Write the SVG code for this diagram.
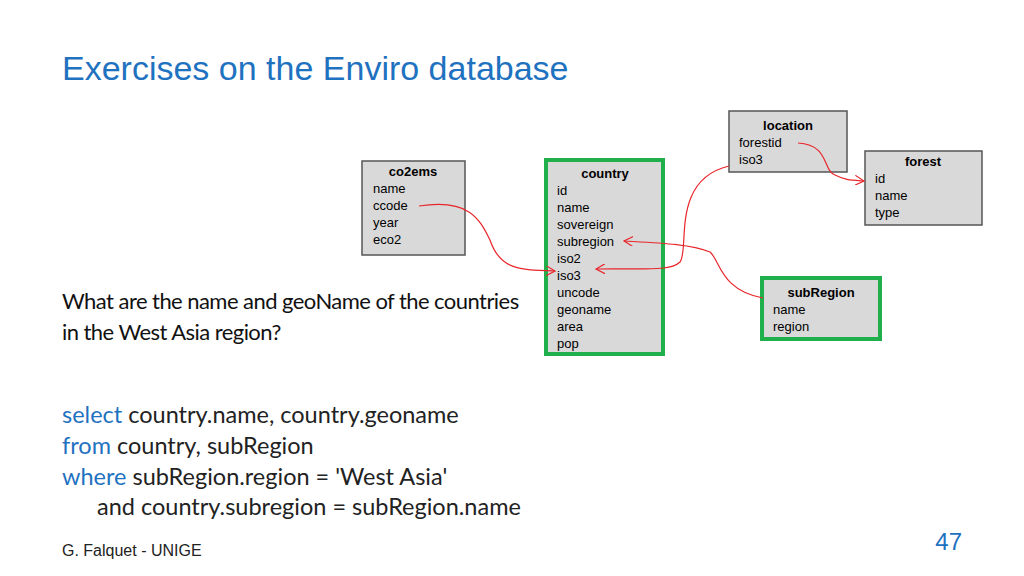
<svg xmlns="http://www.w3.org/2000/svg" width="1024" height="576" viewBox="0 0 1024 576">
<defs>
<style>
.box{fill:#d9d9d9;stroke:#555;stroke-width:1.5}
.gbox{fill:#d9d9d9;stroke:#1fb04b;stroke-width:4}
.t{font-family:"Liberation Sans",Arial,sans-serif;font-size:13px;fill:#000}
.h{font-family:"Liberation Sans",Arial,sans-serif;font-size:13px;font-weight:bold;text-anchor:middle}
.c{fill:none;stroke:#e8262b;stroke-width:1.2}
.sql{font-family:Lato,"Open Sans",sans-serif;font-size:23.5px;fill:#222}
.kw{fill:#1f72c0}
</style>
<marker id="a" viewBox="0 0 10 10" refX="9" refY="5" markerWidth="10" markerHeight="10" orient="auto" markerUnits="userSpaceOnUse"><path d="M0,0 L9,5 L0,10" fill="none" stroke="#e8262b" stroke-width="1.2"/></marker>
</defs>
<rect width="1024" height="576" fill="#fff"/>
<text x="62" y="80" font-family="Liberation Sans,Arial,sans-serif" font-size="34" fill="#1f72c0">Exercises on the Enviro database</text>
<g id="co2ems"><rect class="box" x="362" y="161" width="103" height="94"/>
<text class="h" x="413" y="176">co2ems</text>
<text class="t" x="373" y="193">name</text><text class="t" x="373" y="210">ccode</text><text class="t" x="373" y="227">year</text><text class="t" x="373" y="244">eco2</text></g>
<g id="country"><rect class="gbox" x="546" y="160" width="117" height="194"/>
<text class="h" x="605" y="178">country</text>
<text class="t" x="557" y="195">id</text><text class="t" x="557" y="212">name</text><text class="t" x="557" y="229">sovereign</text><text class="t" x="557" y="246">subregion</text><text class="t" x="557" y="263">iso2</text><text class="t" x="557" y="280">iso3</text><text class="t" x="557" y="297">uncode</text><text class="t" x="557" y="314">geoname</text><text class="t" x="557" y="331">area</text><text class="t" x="557" y="348">pop</text></g>
<g id="location"><rect class="box" x="729" y="111" width="118" height="61"/>
<text class="h" x="788" y="130">location</text>
<text class="t" x="739" y="147">forestid</text><text class="t" x="739" y="164">iso3</text></g>
<g id="forest"><rect class="box" x="865" y="151" width="117" height="74"/>
<text class="h" x="923" y="166">forest</text>
<text class="t" x="875" y="183">id</text><text class="t" x="875" y="200">name</text><text class="t" x="875" y="217">type</text></g>
<g id="subRegion"><rect class="gbox" x="762" y="278" width="118" height="61"/>
<text class="h" x="821" y="297">subRegion</text>
<text class="t" x="773" y="314">name</text><text class="t" x="773" y="331">region</text></g>
<g id="connectors">
<path class="c" d="M419,206 C470,198 480,220 490,240 C500,270 520,270 555,271" marker-end="url(#a)"/>
<path class="c" d="M729,166 C670,180 690,250 680,262 C670,272 640,268 596,269" marker-end="url(#a)"/>
<path class="c" d="M763,298 C720,290 720,260 710,252 C690,244 660,243 624,241" marker-end="url(#a)"/>
<path class="c" d="M798,143 C830,145 822,170 835,175 C845,180 850,180 864,181" marker-end="url(#a)"/>
</g>
<text x="62" y="309" font-family="Lato,sans-serif" font-size="22" letter-spacing="-0.55" fill="#111">What are the name and geoName of the countries</text>
<text x="62" y="340" font-family="Lato,sans-serif" font-size="22" letter-spacing="-0.55" fill="#111">in the West Asia region?</text>
<text class="sql" x="62" y="423"><tspan class="kw">select</tspan> country.name, country.geoname</text>
<text class="sql" x="62" y="454"><tspan class="kw">from</tspan> country, subRegion</text>
<text class="sql" x="62" y="485"><tspan class="kw">where</tspan> subRegion.region = 'West Asia'</text>
<text class="sql" x="97" y="515">and country.subregion = subRegion.name</text>
<text x="62" y="556" font-family="Liberation Sans,Arial,sans-serif" font-size="16" fill="#222">G. Falquet - UNIGE</text>
<text x="962" y="550" font-family="Liberation Sans,Arial,sans-serif" font-size="24" fill="#1f72c0" text-anchor="end">47</text>
</svg>
